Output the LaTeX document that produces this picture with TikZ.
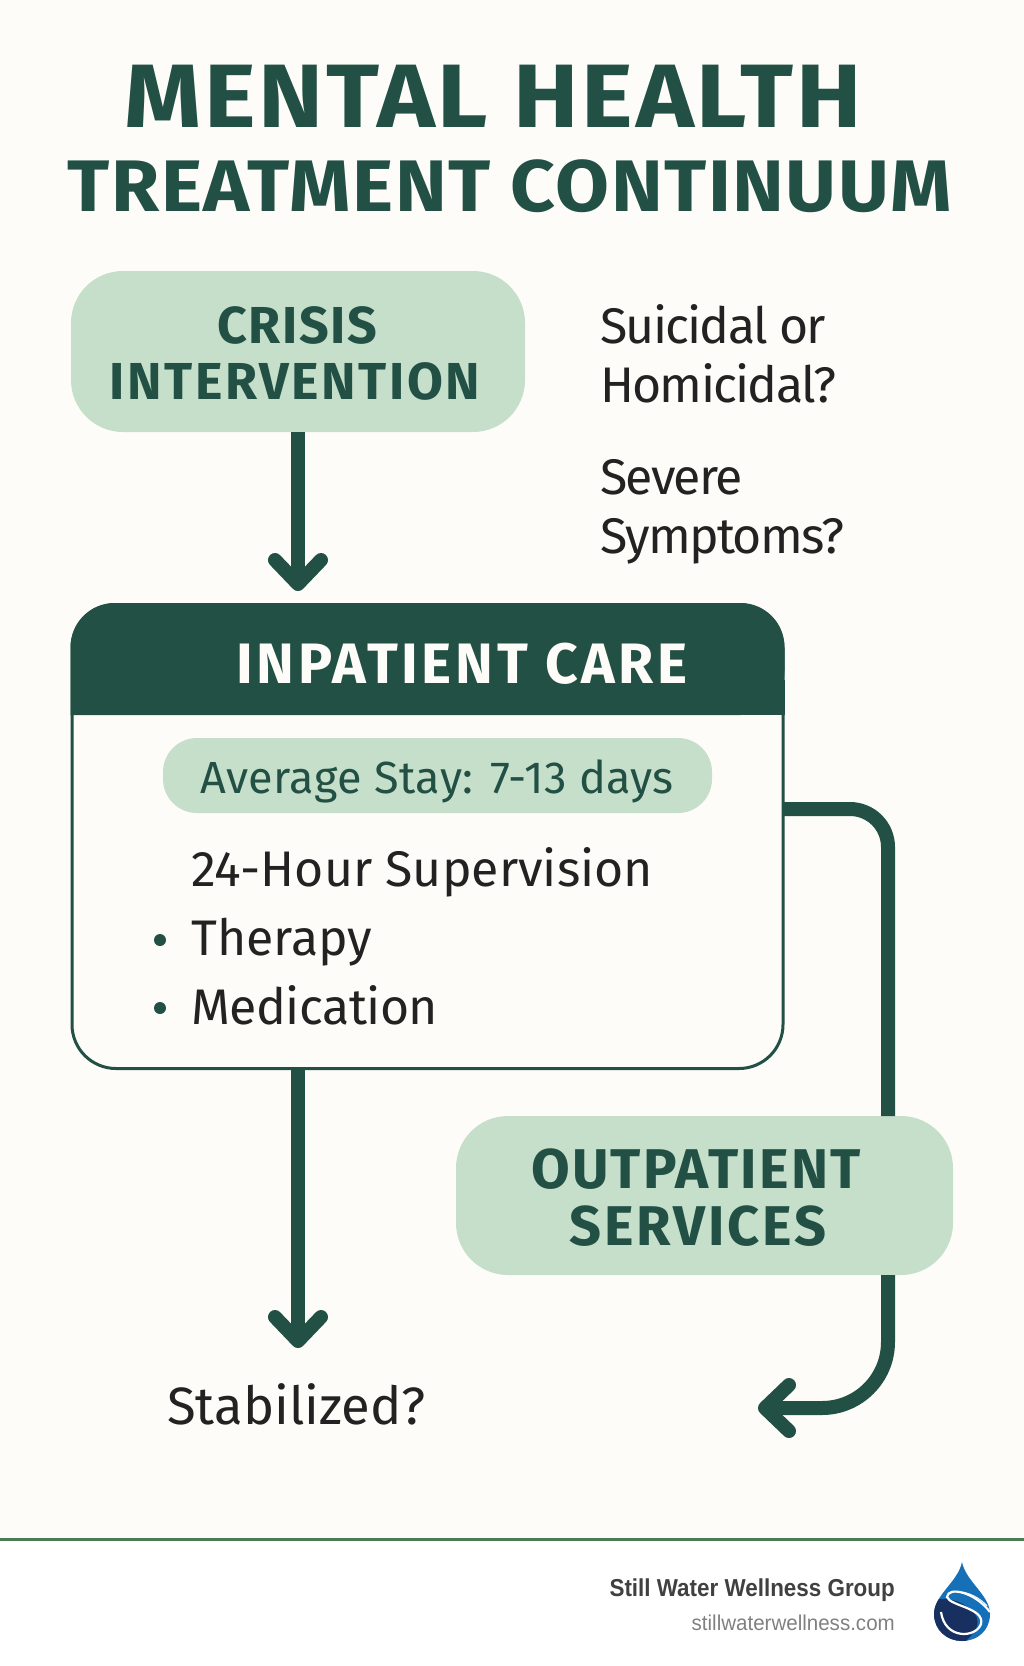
\documentclass[tikz,border=0pt]{standalone}
\usepackage{fontspec}
\usepackage{tikz}
\usetikzlibrary{arrows.meta}
\setmainfont{Fira Sans}
\newfontfamily\footfont{Liberation Sans}
\definecolor{darkgreen}{HTML}{225045}
\definecolor{palegreen}{HTML}{C6DFCA}
\definecolor{paper}{HTML}{FDFCF8}
\definecolor{inkgray}{HTML}{222222}
\definecolor{rulegreen}{HTML}{4A7A56}
\definecolor{dropblue}{HTML}{1570B8}
\definecolor{dropnavy}{HTML}{17305F}
\newcommand{\fs}[3]{\fontsize{#2}{#2}\selectfont\addfontfeature{LetterSpace=#3,FakeStretch=#1}}
\tikzset{
  greenbox/.style={fill=palegreen,rounded corners=52pt,inner sep=0pt},
  boxtext/.style={anchor=base,inner sep=0pt,text=darkgreen},
  question/.style={anchor=base west,inner sep=0pt,text=inkgray,font=\fs{1}{50}{-3.5}},
  caretext/.style={anchor=base west,inner sep=0pt,text=inkgray,font=\fs{1}{50}{0}},
  flow/.style={draw=darkgreen,line width=14pt,-{Straight Barb[length=24pt,width=46pt,round]}},
  tick/.style={circle,fill=darkgreen,minimum size=12pt,inner sep=0pt},
}
\begin{document}
\begin{tikzpicture}[x=1pt,y=-1pt]
\useasboundingbox (0,0) rectangle (1024,1666);
\fill[paper] (0,0) rectangle (1024,1539);
\fill[rulegreen] (0,1537.5) rectangle (1024,1540.5);
\node[boxtext,font=\bfseries\fs{1.09}{90}{3}] (title1) at (493,127) {MENTAL HEALTH};
\node[boxtext,font=\bfseries\fs{1.07}{73}{2.1}] (title2) at (510,211) {TREATMENT CONTINUUM};
% boxes
\node[greenbox,minimum width=454pt,minimum height=161pt] (crisis) at (298,351.5) {};
\node[boxtext,font=\bfseries\fs{1}{52}{3}] (crisis1) at (297,343) {CRISIS};
\node[boxtext,font=\bfseries\fs{1}{52}{5}] (crisis2) at (295,399) {INTERVENTION};
\node[question] (q1) at (600,343) {Suicidal or};
\node[question] (q2) at (600,402) {Homicidal?};
\node[question] (q3) at (600,494) {Severe};
\node[question] (q4) at (600,553) {Symptoms?};
\node[draw=darkgreen,line width=3pt,fill=paper,rounded corners=44pt,minimum width=711pt,minimum height=464pt,inner sep=0pt] (inpatient) at (427.5,836.5) {};
\fill[darkgreen,rounded corners=44pt] (70.5,715) -- (70.5,603) -- (784.5,603) -- (784.5,715) [sharp corners] -- cycle;
\fill[darkgreen] (70.5,680) rectangle (784.5,715);
\node[boxtext,text=paper,font=\bfseries\fs{1}{57}{6.5}] (inhead) at (462,683) {INPATIENT CARE};
\node[fill=palegreen,rounded corners=34pt,minimum width=549pt,minimum height=75pt,inner sep=0pt] (staybox) at (437.5,775.5) {};
\node[boxtext,font=\fs{1}{45}{1}] (stay) at (437,793) {Average Stay: 7-13 days};
\node[caretext] (care1) at (191,886) {24-Hour Supervision};
\node[caretext] (care2) at (191,955) {Therapy};
\node[anchor=base west,inner sep=0pt,text=inkgray,font=\fs{1}{50}{-1}] (care3) at (191,1024) {Medication};
\node[tick] (dot1) at (160,940) {};
\node[tick] (dot2) at (160,1008) {};
\node[greenbox,minimum width=497pt,minimum height=159pt] (outpatient) at (704.5,1195.5) {};
\node[boxtext,font=\bfseries\fs{1}{56}{4}] (out1) at (696,1188) {OUTPATIENT};
\node[boxtext,font=\bfseries\fs{1}{56}{5}] (out2) at (698,1245) {SERVICES};
\node[anchor=base west,inner sep=0pt,text=inkgray,font=\fs{1}{52.5}{0}] (stable) at (167,1424) {Stabilized?};
% connectors
\coordinate (ina) at (782,809);
\coordinate (outa) at (888,1116);
\coordinate (outb) at (888,1275);
\coordinate (back) at (758,1408);
\coordinate (stop1) at (298,591);
\coordinate (stop2) at (298,1348);
\draw[flow] (crisis.south -| stop1) -- (stop1);
\draw[flow] (inpatient.south -| stop2) -- (stop2);
\draw[draw=darkgreen,line width=14pt,rounded corners=38pt] (ina) -| (outa);
\draw[flow,rounded corners=66pt] (outb) |- (back);
% footer
\node[anchor=base east,inner sep=0pt,text=black!75,font=\footfont\bfseries\fs{.915}{24.5}{0}] (brand) at (895,1596) {Still Water Wellness Group};
\node[anchor=base east,inner sep=0pt,text=black!50,font=\footfont\fs{.955}{21.5}{0}] (site) at (895,1630) {stillwaterwellness.com};
% logo
\begin{scope}
\clip (962,1562) .. controls (958,1582) and (934,1595) .. (934,1614) .. controls (934,1630) and (947,1641) .. (962,1641) .. controls (978,1641) and (990,1630) .. (990,1614) .. controls (990,1595) and (966,1582) .. (962,1562) -- cycle;
\fill[dropblue] (920,1555) rectangle (1000,1650);
\fill[dropnavy] (930,1603) .. controls (945,1592) and (972,1605) .. (977,1618) .. controls (980,1630) and (970,1636) .. (962,1645) -- (930,1645) -- cycle;
\draw[white,line width=2.2pt] (990,1612) .. controls (975,1592) and (948,1586) .. (947,1597) .. controls (950,1606) and (985,1608) .. (981,1624) .. controls (976,1638) and (945,1640) .. (941,1612);
\draw[white,line width=1pt] (962,1592) .. controls (973,1594) and (982,1600) .. (987,1606);
\end{scope}
\end{tikzpicture}
\end{document}
